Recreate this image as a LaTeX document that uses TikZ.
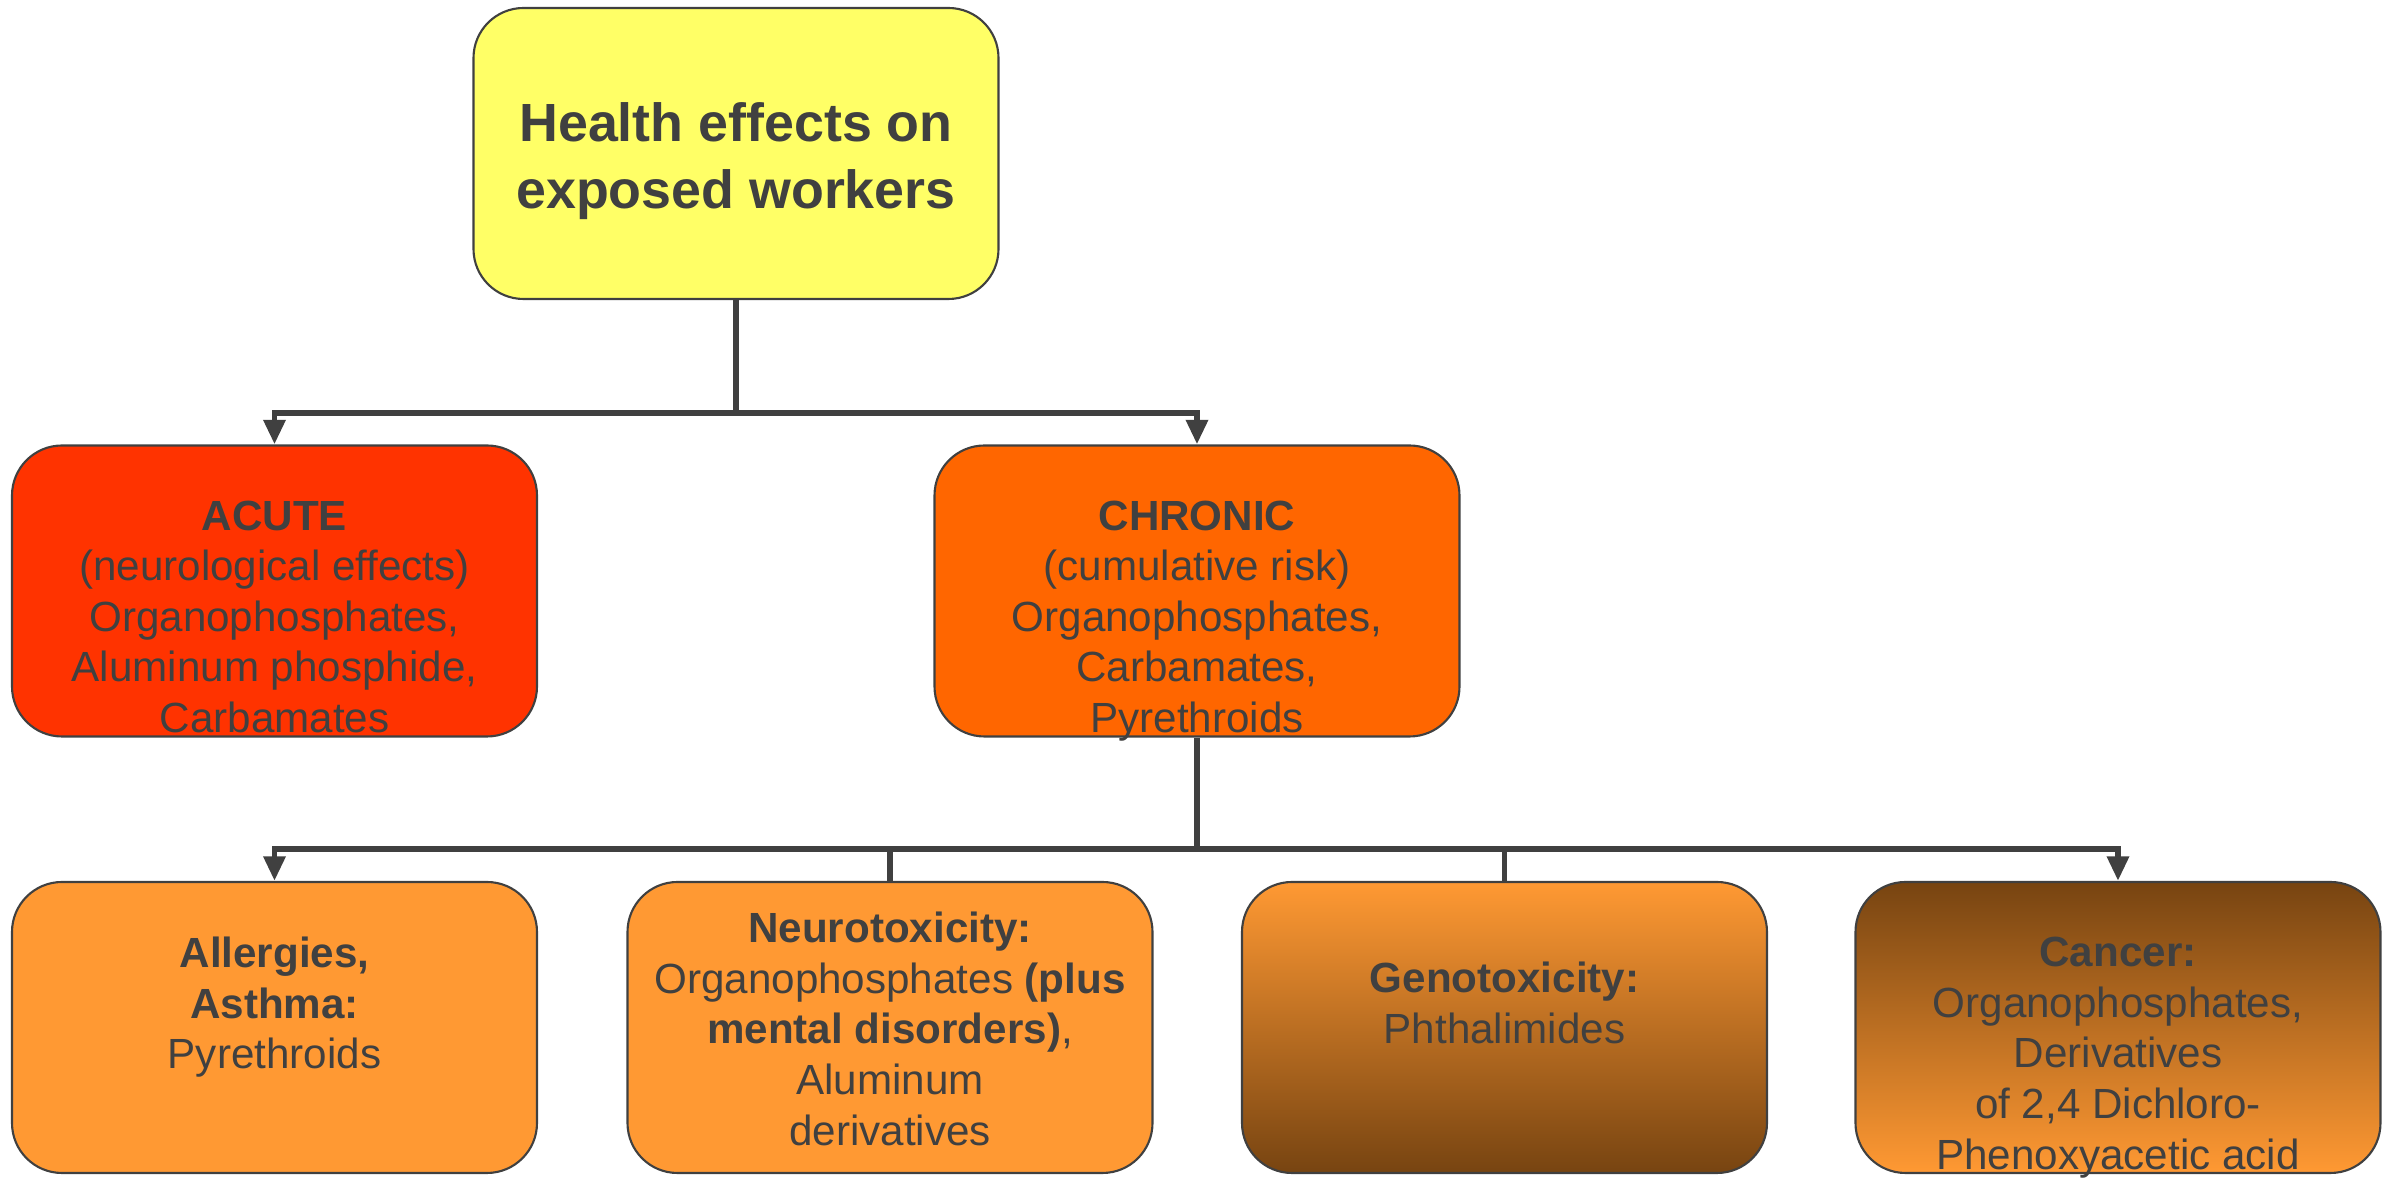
\documentclass[tikz,border=0pt]{standalone}
\usepackage{fontspec}
\setmainfont{Liberation Sans}
\usetikzlibrary{arrows.meta,positioning}
\definecolor{inkgray}{HTML}{404040}
\definecolor{topyellow}{HTML}{FFFF66}
\definecolor{acutered}{HTML}{FF3300}
\definecolor{chronicorange}{HTML}{FF6600}
\definecolor{lightorange}{HTML}{FF9933}
\definecolor{darkbrown}{HTML}{774411}

\begin{document}
\begin{tikzpicture}[
  font=\fontsize{12}{14.4}\selectfont,
  box/.style={draw=inkgray, line width=0.6pt, rounded corners=0.5cm, minimum width=5.25cm, minimum height=2.91cm, inner sep=0pt},
  txt/.style={text=inkgray, align=center, inner sep=0pt},
  feed/.style={-{Triangle[length=7pt,width=6pt]}, line width=1.7pt, draw=inkgray},
  tie/.style={line width=1.7pt, draw=inkgray}]
\useasboundingbox (0,0) rectangle (23.92,11.78);
% boxes
\node[box, fill=topyellow] (top) at (7.36,10.245) {};
\node[box, fill=acutered] (acute) at (2.745,5.87) {};
\node[box, fill=chronicorange] (chronic) at (11.97,5.87) {};
\node[box, fill=lightorange] (allergy) at (2.745,1.505) {};
\node[box, fill=lightorange] (neuro) at (8.90,1.505) {};
\node[box, top color=lightorange, bottom color=darkbrown] (geno) at (15.045,1.505) {};
\node[box, top color=darkbrown, bottom color=lightorange] (cancer) at (21.18,1.505) {};
% texts
\node[txt, font=\fontsize{15.3}{19}\selectfont\bfseries, below=0.95 of top.north] (top-t)
  {Health effects on\\exposed workers};
\node[txt, below=0.555 of acute.north] (acute-t)
  {\textbf{ACUTE}\\(neurological effects)\\Organophosphates,\\Aluminum phosphide,\\Carbamates};
\node[txt, below=0.555 of chronic.north] (chronic-t)
  {\textbf{CHRONIC}\\(cumulative risk)\\Organophosphates,\\Carbamates,\\Pyrethroids};
\node[txt, below=0.555 of allergy.north] (allergy-t)
  {\textbf{Allergies,}\\\textbf{Asthma:}\\Pyrethroids};
\node[txt, below=0.305 of neuro.north] (neuro-t)
  {\textbf{Neurotoxicity:}\\Organophosphates \textbf{(plus}\\\textbf{mental disorders)},\\Aluminum\\derivatives};
\node[txt, below=0.805 of geno.north] (geno-t)
  {\textbf{Genotoxicity:}\\Phthalimides};
\node[txt, below=0.555 of cancer.north] (cancer-t)
  {\textbf{Cancer:}\\Organophosphates,\\Derivatives\\of 2,4 Dichloro-\\Phenoxyacetic acid};
% connectors
\coordinate[below=1.13 of top.south] (split1);
\coordinate[below=1.115 of chronic.south] (split2);
\draw[tie] (top.south) -- (split1);
\draw[feed] (split1) -| (acute.north);
\draw[feed] (split1) -| (chronic.north);
\draw[tie] (chronic.south) -- (split2);
\draw[feed] (split2) -| (allergy.north);
\draw[tie] (split2) -| (neuro.north);
\draw[tie] (split2) -| (geno.north);
\draw[feed] (split2) -| (cancer.north);
\end{tikzpicture}
\end{document}
